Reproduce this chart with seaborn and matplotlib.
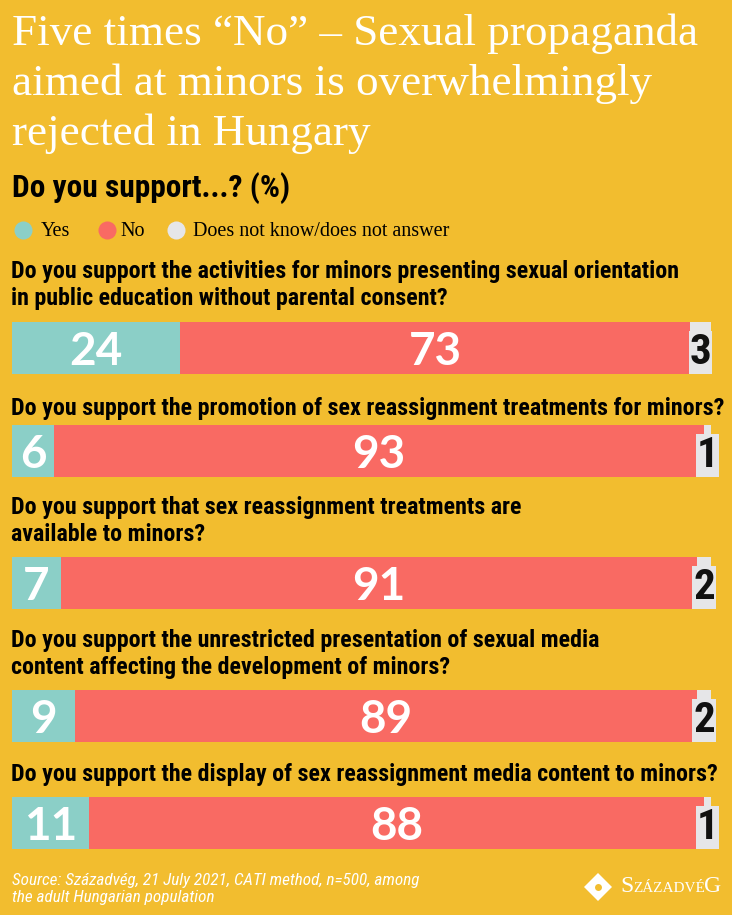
import pandas as pd
import seaborn as sns
from matplotlib import pyplot as plt
from matplotlib import font_manager

# survey data (%)
questions = [
    'Do you support the activities for minors presenting sexual orientation\nin public education without parental consent?',
    'Do you support the promotion of sex reassignment treatments for minors?',
    'Do you support that sex reassignment treatments are\navailable to minors?',
    'Do you support the unrestricted presentation of sexual media\ncontent affecting the development of minors?',
    'Do you support the display of sex reassignment media content to minors?',
]
yes = [24, 6, 7, 9, 11]
no = [73, 93, 91, 89, 88]
dk = [3, 1, 2, 2, 1]
legend_labels = ['Yes', 'No', 'Does not know/does not answer']

BG = '#F2BD2F'
TEAL = '#8BCFC7'
RED = '#F96A63'
GREY = '#E6E6E8'

fonts = font_manager.fontManager.ttflist
names = {f.name for f in fonts}
NARROW, STRETCH = 'DejaVu Sans', 'condensed'
for cand in ['Liberation Sans Narrow', 'Roboto Condensed']:
    if cand in names:
        NARROW, STRETCH = cand, 'normal'
        break
SERIF = 'Liberation Serif'
NUM = 'Lato' if 'Lato' in names else NARROW

sns.set_theme(style='white')
plt.rcParams['font.family'] = [NARROW, 'DejaVu Sans']
plt.rcParams['font.stretch'] = STRETCH

W, H = 732, 915
fig = plt.figure(figsize=(W / 100, H / 100), dpi=100, facecolor=BG)


def px(x, y):
    return x / W, 1 - y / H


# title block
title = 'Five times \u201cNo\u201d \u2013 Sexual propaganda\naimed at minors is overwhelmingly\nrejected in Hungary'
fig.text(*px(12, 14), title, family=SERIF, color='white', fontsize=32.5, va='top', ha='left', linespacing=1.3)
fig.text(*px(12, 188), 'Do you support...? (%)', color='black', fontsize=22.6, weight='bold', va='center', ha='left')

# legend
leg_x = [(23, 41), (107, 120), (176, 193)]
for (cx, tx), lab, col in zip(leg_x, legend_labels, [TEAL, RED, GREY]):
    fig.add_artist(plt.Line2D([cx / W], [1 - 230 / H], marker='o', markersize=13, color=col,
                              markeredgewidth=0, transform=fig.transFigure))
    fig.text(*px(tx, 231), lab, family=SERIF, fontsize=14.5, color='black', va='center', ha='left')

# bars
df = pd.DataFrame({'question': questions, 'yes': yes, 'no': no, 'dk': dk})
df['yes_no'] = df['yes'] + df['no']
df['total'] = df['yes_no'] + df['dk']

bar_top = [322, 425, 557, 690, 797]
q_y = [285, 409, 521, 654, 775]
bar_h = 52

for i, row in df.iterrows():
    fig.text(*px(11, q_y[i]), row['question'], color='black', fontsize=17.3, weight='bold',
             va='center', ha='left', linespacing=1.18)
    ax = fig.add_axes([12 / W, 1 - (bar_top[i] + bar_h) / H, 699 / W, bar_h / H])
    sub = df.iloc[[i]]
    for col, c in [('total', GREY), ('yes_no', RED), ('yes', TEAL)]:
        sns.barplot(data=sub, x=col, y='question', color=c, saturation=1, width=1,
                    errorbar=None, linewidth=0, ax=ax, orient='h')
    ax.set_xlim(0, 100)
    ax.set_ylim(0.5, -0.5)
    ax.axis('off')
    ax.text(row['yes'] / 2, 0.07, str(row['yes']), color='white', fontsize=33, weight='bold',
            family=NUM, ha='center', va='center')
    ax.text(row['yes'] + row['no'] / 2, 0.07, str(row['no']), color='white', fontsize=33,
            weight='bold', family=NUM, ha='center', va='center')
    ax.text(row['yes_no'] + row['dk'] / 2, 0.08, str(row['dk']), color='#111111', fontsize=31,
            weight='bold', ha='center', va='center',
            bbox=dict(boxstyle='square,pad=0.02', fc=GREY, ec='none'))

# footer
fig.text(*px(12, 889), 'Source: Századvég, 21 July 2021, CATI method, n=500, among\nthe adult Hungarian population',
         color='white', fontsize=12.3, style='italic', va='center', ha='left', linespacing=1.15)
fig.add_artist(plt.Line2D([598 / W], [1 - 887 / H], marker='D', markersize=14, color='white',
                          markeredgewidth=0, transform=fig.transFigure))
fig.add_artist(plt.Line2D([598 / W], [1 - 887 / H], marker='o', markersize=5, color=BG,
                          markeredgewidth=0, transform=fig.transFigure))
fig.text(*px(620, 887), 'S', family=SERIF, color='white', fontsize=17, va='center', ha='left')
fig.text(*px(633, 889), 'ZÁZADVÉ', family=SERIF, color='white', fontsize=11, va='center', ha='left')
fig.text(*px(721, 887), 'G', family=SERIF, color='white', fontsize=17, va='center', ha='right')

fig.savefig('out.png', dpi=100, facecolor=BG)
